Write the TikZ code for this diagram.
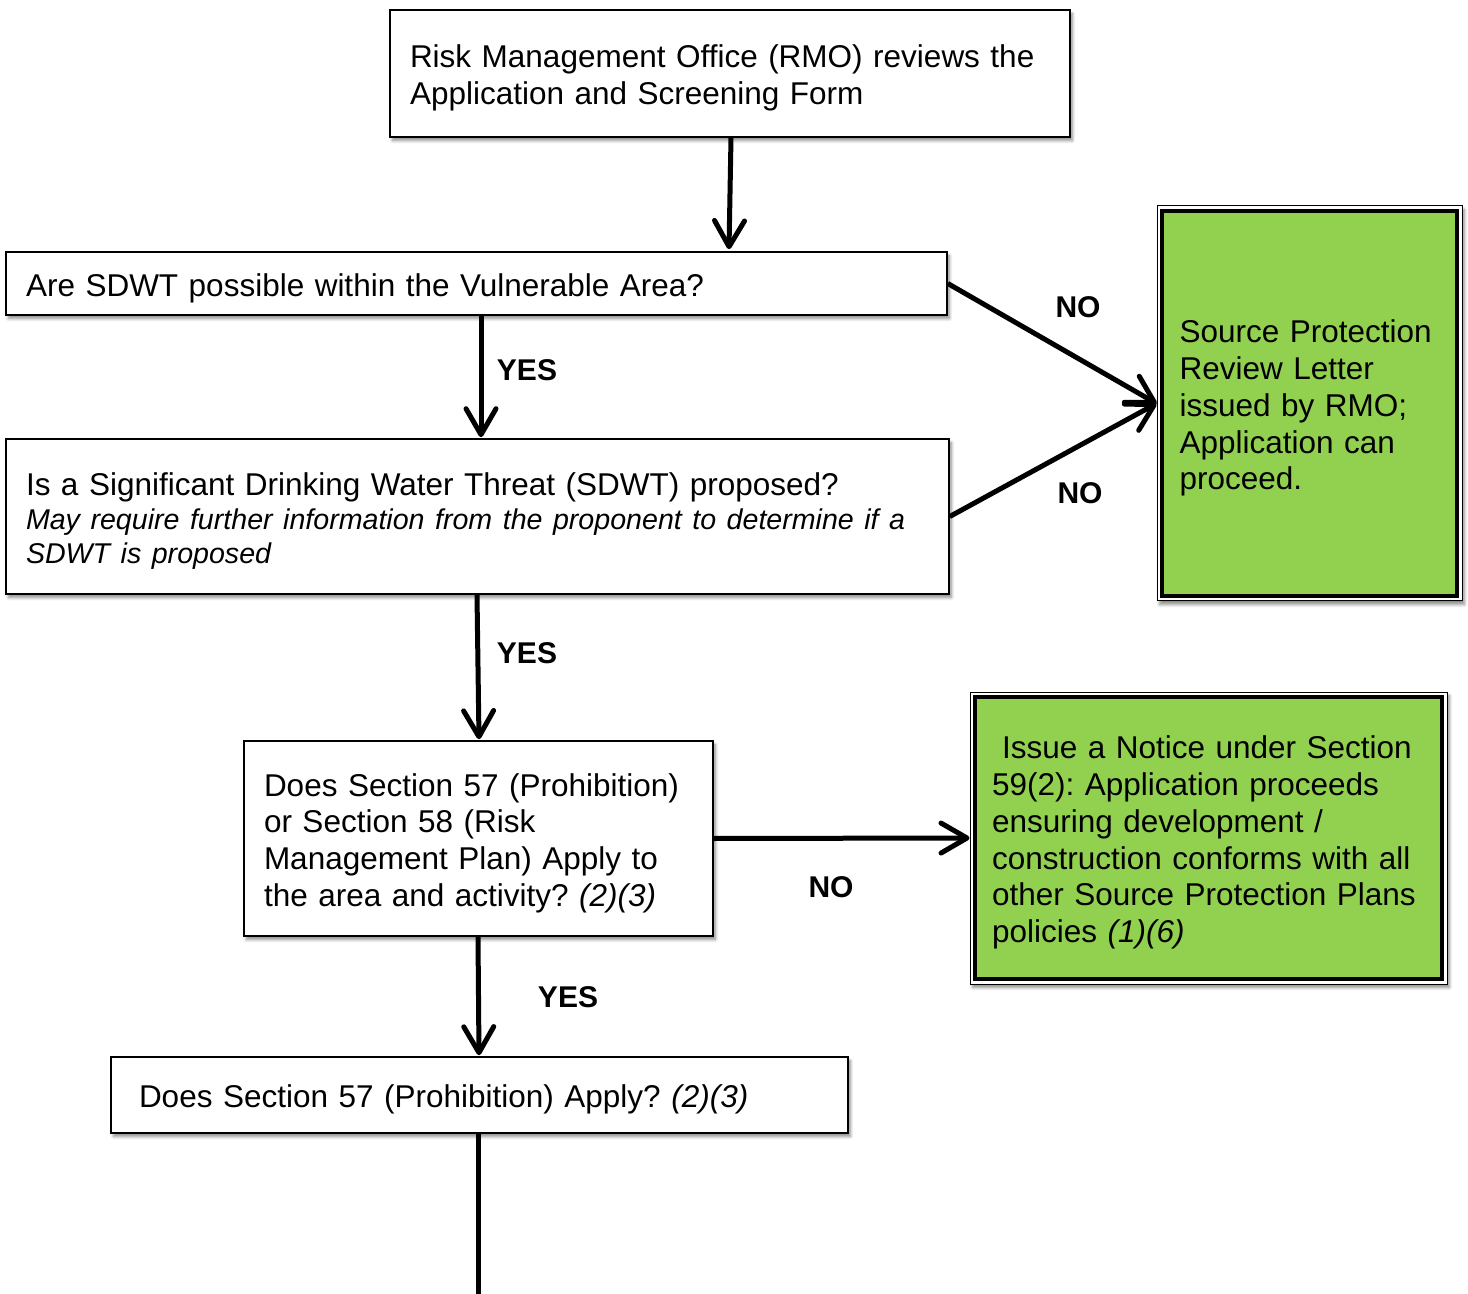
\documentclass[tikz,border=0pt]{standalone}
\usepackage{fontspec}
\setmainfont{Liberation Sans}
\usetikzlibrary{arrows.meta,shadows.blur,calc}
\definecolor{okgreen}{RGB}{146,208,80}
\newcommand{\firststrut}{\rule{0pt}{16pt}}
\frenchspacing
\begin{document}
\begin{tikzpicture}[x=0.5pt,y=-0.5pt,
  shadowed/.style={blur shadow={shadow xshift=1.2pt,shadow yshift=-1.8pt,shadow blur steps=6,shadow blur radius=1.5pt,shadow opacity=45}},
  box/.style={shadowed,draw=black,line width=0.8pt,fill=white,rectangle,inner ysep=0pt,
    align=left,font=\fontsize{15.75}{18.4}\selectfont\frenchspacing},
  greenbox/.style={box,line width=0.5pt,
    path picture={\draw[line width=2.2pt,fill=okgreen]
      ([shift={(2.6pt,-2.6pt)}]path picture bounding box.north west) rectangle
      ([shift={(-2.6pt,2.6pt)}]path picture bounding box.south east);}},
  arr/.style={line width=2.5pt,-{Straight Barb[length=13pt,width=15pt,round]}},
  plainline/.style={line width=2.5pt},
  lbl/.style={font=\fontsize{15}{18}\selectfont\bfseries,inner sep=0pt}
]
\useasboundingbox (0,0) rectangle (1468,1294);

\node[box,text width=320pt,inner xsep=10pt,minimum height=63.5pt] (b1) at (730,73.5)
  {\firststrut Risk Management Office (RMO) reviews the\\Application and Screening Form};
\node[box,text width=450.5pt,inner xsep=10pt,minimum height=31.5pt] (b2) at (476.5,283.5)
  {\firststrut Are SDWT possible within the Vulnerable Area?};
\node[box,text width=451.5pt,inner xsep=10pt,minimum height=77.5pt] (b3) at (477.5,516.5)
  {\firststrut Is a Significant Drinking Water Threat (SDWT) proposed?\par
   {\fontsize{14.3}{17.2}\selectfont\itshape May require further information from the proponent to determine if a\\SDWT is proposed\par}};
\node[box,text width=214.5pt,inner xsep=10pt,minimum height=97.5pt] (b4) at (478.5,838.5)
  {\firststrut Does Section 57 (Prohibition)\\or Section 58 (Risk\\Management Plan) Apply to\\the area and activity? \textit{(2)(3)}};
\node[box,text width=340.5pt,inner xsep=14pt,minimum height=38pt] (b5) at (479.5,1095)
  {\firststrut Does Section 57 (Prohibition) Apply? \textit{(2)(3)}};

\node[greenbox,text width=130pt,inner xsep=11.25pt,minimum height=197.5pt] (g1) at (1309.5,403.5)
  {\firststrut Source Protection\\Review Letter\\issued by RMO;\\Application can\\proceed.};
\node[greenbox,text width=216.5pt,inner xsep=11pt,minimum height=146pt] (g2) at (1208.5,838)
  {\firststrut\hspace*{5pt}Issue a Notice under Section\\59(2): Application proceeds\\ensuring development /\\construction conforms with all\\other Source Protection Plans\\policies \textit{(1)(6)}};

\coordinate (bottom) at (478,1294);

\draw[arr] ($(b1.south)+(1,0)$) -- ($(b2.north)+(252.5,-2)$);
\draw[arr] ($(b2.south)+(4.5,0)$) -- ($(b3.north)+(3.5,-1)$);
\draw[arr] ($(b3.south)+(-0.5,0)$) -- ($(b4.north)+(0.5,-1)$);
\draw[arr] ($(b4.south)+(-0.5,0)$) -- ($(b5.north)+(-0.5,-1)$);
\draw[plainline] ($(b5.south)+(-1.5,0)$) -- (bottom);
\draw[arr] (b2.east) -- (g1.west);
\draw[arr] (b3.east) -- (g1.west);
\draw[arr] (b4.east) -- (g2.west);

\node[lbl] (y1) at (527,370) {YES};
\node[lbl] (y2) at (527,653) {YES};
\node[lbl] (y3) at (568,997) {YES};
\node[lbl] (n1) at (1078,307) {NO};
\node[lbl] (n2) at (1080,493) {NO};
\node[lbl] (n3) at (831,887) {NO};
\end{tikzpicture}
\end{document}
